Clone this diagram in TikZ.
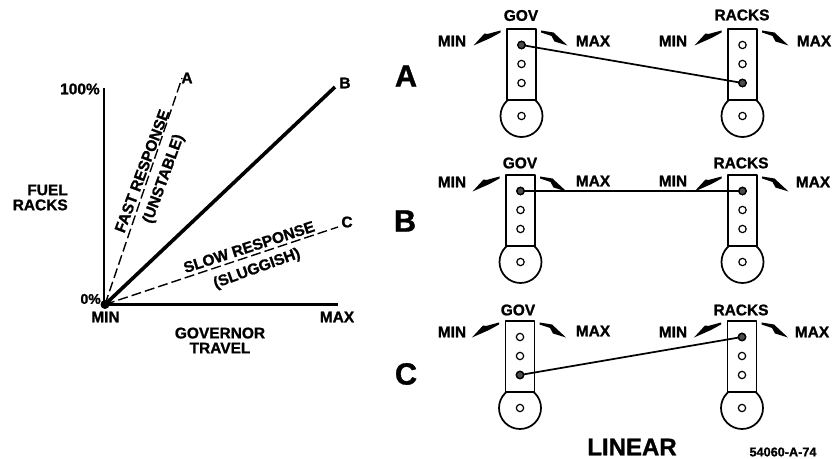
\documentclass[tikz,border=0pt]{standalone}
\usepackage{fontspec}
\setmainfont{Liberation Sans}[BoldFeatures={FakeBold=1.2}]
\tikzset{
 lbl/.style={font=\bfseries\fontsize{11.6}{11.25}\selectfont,inner sep=0pt,align=center,text=black},
 big/.style={font=\bfseries\fontsize{23}{23}\selectfont,inner sep=0pt},
 link/.style={line width=1.3pt,line join=round},
 hole/.style={circle,draw=black,fill=white,line width=0.9pt,minimum size=5.5pt,inner sep=0pt},
 pin/.style={circle,draw=black,fill=black!70,line width=1pt,minimum size=5.5pt,inner sep=0pt},
 dashline/.style={line width=1.05pt,dash pattern=on 7.5pt off 3pt},
 ax/.style={line width=1.6pt},
}
\newcommand{\lever}[3]{% name, cx, topy
 \begin{scope}[shift={(#2,#3)}]
 \draw[link,fill=white] (0,87) circle (21);
 \draw[link,fill=white] (-14.5,71) -- (-14.5,0) -- (14.5,0) -- (14.5,71) -- cycle;
 \node[hole] (#1h1) at (0,16) {};
 \node[hole] (#1h2) at (0,35) {};
 \node[hole] (#1h3) at (0,54) {};
 \node[hole] (#1h4) at (0,87) {};
 \end{scope}}
\newcommand{\arcs}[2]{% cx, topy
 \begin{scope}[shift={(#1,#2)}]
 \fill (-48,16.5) -- (-37,4.5) -- (-34,5) -- (-21,1.5) -- (-21,3.5) -- (-31,9) -- cycle;
 \fill (19.5,1.5) -- (32,3.5) -- (46,16.5) -- (33,12.5) -- (30,7) -- (19.5,3.5) -- cycle;
 \end{scope}}
\begin{document}
\begin{tikzpicture}[x=0.75pt,y=-0.75pt]
\useasboundingbox (0,0) rectangle (832,459);
% left chart
\coordinate (o) at (105,304.5);
\coordinate (ya) at (104,88);
\coordinate (xa) at (338,304.5);
\coordinate (ea) at (182,78);
\coordinate (eb) at (335,87);
\coordinate (ec) at (338,227);
\draw[ax] (ya) -- (104,304.5) -- (xa);
\draw[line width=2.7pt] (o) -- (eb);
\draw[dashline] (o) -- (ea);
\draw[dashline] (o) -- (ec);
\fill (o) circle (4.5);
\node[lbl,anchor=east] (p100) at (100,89) {100\%};
\node[lbl,anchor=east,font=\bfseries\fontsize{10.5}{11}\selectfont] (p0) at (101,299) {0\%};
\node[lbl] (min0) at (105.5,317) {MIN};
\node[lbl] (max0) at (337,317) {MAX};
\node[lbl] (gt) at (220,340.5) {GOVERNOR\\TRAVEL};
\node[lbl,align=right,anchor=east] (fr) at (68,197.5) {FUEL\\RACKS};
\node[lbl] (la) at (187,78) {A};
\node[lbl] (lb) at (345,83) {B};
\node[lbl] (lc) at (347,222) {C};
\node[lbl,rotate=69.5] (fast) at (142,171) {FAST RESPONSE};
\node[lbl,rotate=70] (uns) at (164,179) {(UNSTABLE)};
\node[lbl,rotate=18] (slow) at (249,247) {SLOW RESPONSE};
\node[lbl,rotate=20] (slug) at (257,269) {(SLUGGISH)};
% row A
\node[big] (ra) at (406,76) {A};
\arcs{521.5}{29}\arcs{742.5}{29}
\lever{ag}{521.5}{29}\lever{ar}{742.5}{29}
\draw[link] (agh1.center) -- (arh3.center);
\node[pin] at (agh1) {};\node[pin] at (arh3) {};
\node[lbl] (g1) at (521,15.5) {GOV};
\node[lbl] (r1) at (742,15) {RACKS};
\node[lbl] (mn1) at (452,41) {MIN};
\node[lbl] (mx1) at (593,41) {MAX};
\node[lbl] (mn2) at (673,41) {MIN};
\node[lbl] (mx2) at (814,41) {MAX};
% row B
\node[big] (rb) at (405,221) {B};
\arcs{520.5}{175}\arcs{742.5}{175}
\lever{bg}{520.5}{175}\lever{br}{742.5}{175}
\draw[link] (bgh1.center) -- (brh1.center);
\node[pin] at (bgh1) {};\node[pin] at (brh1) {};
\node[lbl] (g2) at (520,163) {GOV};
\node[lbl] (r2) at (741,163) {RACKS};
\node[lbl] (mn3) at (452,182) {MIN};
\node[lbl] (mx3) at (593,181) {MAX};
\node[lbl] (mn4) at (673,181) {MIN};
\node[lbl] (mx4) at (813,182) {MAX};
% row C
\node[big] (rc) at (406,374) {C};
\arcs{520}{321}\arcs{742}{321}
\lever{cg}{520}{321}\lever{cr}{742}{321}
\draw[link] (cgh3.center) -- (crh1.center);
\node[pin] at (cgh3) {};\node[pin] at (crh1) {};
\node[lbl] (g3) at (518,310) {GOV};
\node[lbl] (r3) at (741,310) {RACKS};
\node[lbl] (mn5) at (452,332) {MIN};
\node[lbl] (mx5) at (593,331) {MAX};
\node[lbl] (mn6) at (673,332) {MIN};
\node[lbl] (mx6) at (812,332) {MAX};
\node[font=\bfseries\fontsize{18}{18}\selectfont,inner sep=0pt] (lin) at (632,447) {LINEAR};
\node[font=\bfseries\fontsize{9.5}{10}\selectfont,inner sep=0pt] (num) at (783,452) {54060-A-74};
\end{tikzpicture}
\end{document}
